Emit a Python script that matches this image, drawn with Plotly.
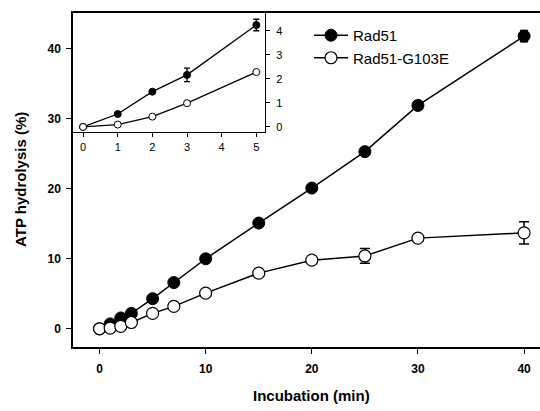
import plotly.graph_objects as go

# Main panel data
time_main = [0, 1, 2, 3, 5, 7, 10, 15, 20, 25, 30, 40]
rad51_main = [0, 0.7, 1.55, 2.2, 4.3, 6.6, 10.0, 15.1, 20.1, 25.3, 31.9, 41.8]
rad51_main_err = [0, 0, 0, 0, 0, 0, 0, 0, 0, 0, 0, 0.8]
mut_main = [0, 0.1, 0.35, 0.9, 2.2, 3.2, 5.1, 7.95, 9.8, 10.4, 12.95, 13.7]
mut_main_err = [0, 0, 0, 0, 0, 0, 0, 0, 0, 1.05, 0, 1.6]

# Inset data
time_inset = [0, 1, 2, 3, 5]
rad51_inset = [0, 0.54, 1.47, 2.17, 4.25]
rad51_inset_err = [0, 0, 0, 0.28, 0.24]
mut_inset = [0, 0.1, 0.43, 0.99, 2.29]
mut_inset_err = [0, 0, 0, 0, 0]

main_xticks = [0, 10, 20, 30, 40]
main_yticks = [0, 10, 20, 30, 40]
inset_xticks = [0, 1, 2, 3, 4, 5]
inset_yticks = [0, 1, 2, 3, 4]

FONT = "Liberation Sans, Arial, sans-serif"

fig = go.Figure()

fig.add_trace(go.Scatter(
    x=time_main, y=rad51_main, name="Rad51", mode="lines+markers",
    line=dict(color="black", width=1.5),
    marker=dict(symbol="circle", size=12, color="black", line=dict(color="black", width=1)),
    error_y=dict(type="data", array=rad51_main_err, color="black", thickness=1.5, width=4),
    legendgroup="a",
))
fig.add_trace(go.Scatter(
    x=time_main, y=mut_main, name="Rad51-G103E", mode="lines+markers",
    line=dict(color="black", width=1.5),
    marker=dict(symbol="circle", size=12, color="white", line=dict(color="black", width=1.2)),
    error_y=dict(type="data", array=mut_main_err, color="black", thickness=1.5, width=5),
    legendgroup="b",
))

fig.add_trace(go.Scatter(
    x=time_inset, y=rad51_inset, mode="lines+markers", showlegend=False,
    line=dict(color="black", width=1.3),
    marker=dict(symbol="circle", size=7, color="black", line=dict(color="black", width=1)),
    error_y=dict(type="data", array=rad51_inset_err, color="black", thickness=1.3, width=3),
    xaxis="x2", yaxis="y2",
))
fig.add_trace(go.Scatter(
    x=time_inset, y=mut_inset, mode="lines+markers", showlegend=False,
    line=dict(color="black", width=1.3),
    marker=dict(symbol="circle", size=7, color="white", line=dict(color="black", width=1)),
    error_y=dict(type="data", array=mut_inset_err, color="black", thickness=1.3, width=3),
    xaxis="x2", yaxis="y2",
))

W, H = 540, 411
L, R, T, B = 73, 0, 13, 64
pw = W - L - R
ph = H - T - B

inset_right_px = 265
inset_bottom_px = 132

fig.update_layout(
    width=W, height=H,
    margin=dict(l=L, r=R, t=T, b=B),
    paper_bgcolor="white", plot_bgcolor="white",
    font=dict(family=FONT, color="black"),
    showlegend=True,
    legend=dict(
        x=(309 - L) / pw, y=(H - B - 19) / ph, xanchor="left", yanchor="top",
        font=dict(size=15, family=FONT), bgcolor="rgba(0,0,0,0)",
        traceorder="grouped", tracegroupgap=0, itemwidth=34,
    ),
    xaxis=dict(
        domain=[0, 1], range=[-2.5, 41.5], tickvals=main_xticks,
        showline=True, linecolor="black", linewidth=1.5, mirror=True,
        ticks="outside", ticklen=5, tickwidth=1.2, tickcolor="black",
        showgrid=False, zeroline=False, ticklabelstandoff=5,
        tickfont=dict(size=12, family=FONT, weight="bold"),
    ),
    yaxis=dict(
        domain=[0, 1], range=[-2.6, 45.1], tickvals=main_yticks,
        showline=True, linecolor="black", linewidth=1.5,
        ticks="outside", ticklen=5, tickwidth=1.2, tickcolor="black",
        showgrid=False, zeroline=False, ticklabelstandoff=3,
        tickfont=dict(size=12, family=FONT, weight="bold"),
    ),
    xaxis2=dict(
        domain=[0, (inset_right_px - L) / pw], range=[-0.29, 5.25], anchor="y2",
        tickvals=inset_xticks,
        showline=True, linecolor="black", linewidth=1.3,
        ticks="outside", ticklen=4, tickwidth=1, tickcolor="black",
        showgrid=False, zeroline=False, ticklabelstandoff=1,
        tickfont=dict(size=11, family=FONT),
    ),
    yaxis2=dict(
        domain=[(H - B - inset_bottom_px) / ph, 1], range=[-0.21, 4.75], anchor="x2",
        side="right", tickvals=inset_yticks,
        showline=True, linecolor="black", linewidth=1.3,
        ticks="outside", ticklen=4, tickwidth=1, tickcolor="black",
        showgrid=False, zeroline=False, ticklabelstandoff=4,
        tickfont=dict(size=11, family=FONT),
    ),
    annotations=[
        dict(text="<b>Incubation (min)</b>", xref="paper", yref="paper",
             x=(311 - L) / pw, y=-(395 - (H - B)) / ph, xanchor="center", yanchor="middle",
             showarrow=False, font=dict(size=15, family=FONT)),
        dict(text="<b>ATP hydrolysis (%)</b>", xref="paper", yref="paper",
             x=(20 - L) / pw, y=((H - B) - 180) / ph, xanchor="center", yanchor="middle",
             textangle=-90, showarrow=False, font=dict(size=15, family=FONT)),
    ],
)

fig.write_html(
    "out.html",
    config={"displayModeBar": False},
    post_script="document.body.style.margin='0';document.body.style.overflow='hidden';",
)
